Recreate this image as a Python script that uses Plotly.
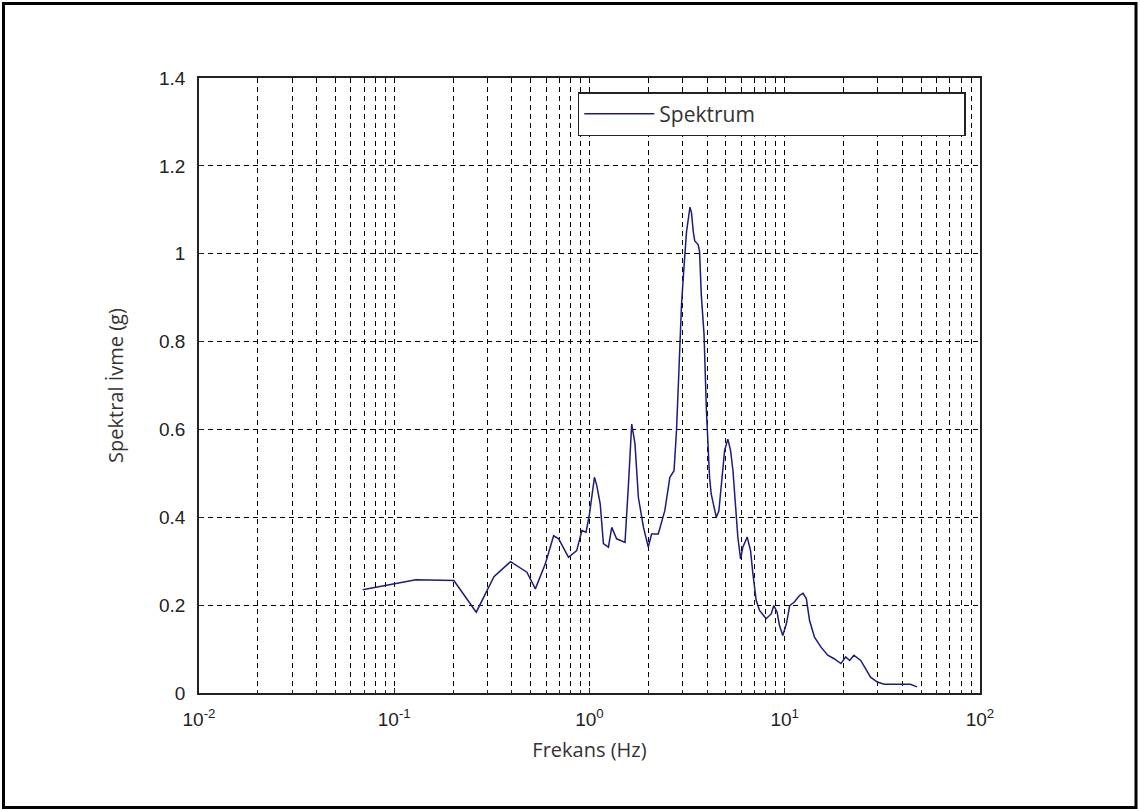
import plotly.graph_objects as go

# Frequency (Hz) and spectral acceleration (g)
freq = [0.0689, 0.110, 0.129, 0.202, 0.263, 0.324, 0.394, 0.478, 0.528, 0.594,
        0.655, 0.695, 0.781, 0.86, 0.914, 0.96, 1.0, 1.06, 1.09, 1.135,
        1.178, 1.25, 1.30, 1.377, 1.52, 1.58, 1.645, 1.71, 1.78, 1.89,
        2.0, 2.08, 2.25, 2.43, 2.58, 2.71, 2.79, 2.87, 2.96, 3.05,
        3.14, 3.27, 3.33, 3.40, 3.46, 3.60, 3.66, 3.74, 3.86, 3.97,
        4.12, 4.2, 4.46, 4.6, 4.73, 4.92, 5.11, 5.28, 5.43, 5.57,
        5.75, 5.94, 6.1, 6.42, 6.68, 6.87, 7.14, 7.43, 8.03, 8.52,
        8.79, 9.14, 9.39, 9.77, 10.2, 10.6, 11.2, 11.9, 12.4, 12.9,
        13.4, 14.2, 15.3, 16.6, 17.9, 19.4, 20.5, 21.5, 22.6, 24.5,
        26.0, 27.5, 29.8, 32.3, 38.4, 44.0, 47.6]
spektrum = [0.235, 0.252, 0.258, 0.256, 0.184, 0.265, 0.299, 0.275, 0.237, 0.294,
            0.358, 0.351, 0.309, 0.324, 0.370, 0.366, 0.408, 0.491, 0.472, 0.430,
            0.340, 0.332, 0.377, 0.351, 0.343, 0.468, 0.612, 0.567, 0.445, 0.377,
            0.332, 0.362, 0.362, 0.415, 0.491, 0.506, 0.597, 0.733, 0.885, 0.972,
            1.050, 1.106, 1.093, 1.050, 1.029, 1.021, 1.006, 0.904, 0.817, 0.643,
            0.491, 0.453, 0.400, 0.415, 0.472, 0.552, 0.578, 0.552, 0.506, 0.430,
            0.355, 0.305, 0.332, 0.355, 0.324, 0.271, 0.211, 0.188, 0.169, 0.180,
            0.199, 0.184, 0.154, 0.131, 0.158, 0.199, 0.207, 0.222, 0.227, 0.215,
            0.165, 0.127, 0.105, 0.086, 0.078, 0.067, 0.082, 0.074, 0.086, 0.074,
            0.055, 0.036, 0.025, 0.020, 0.020, 0.020, 0.014]

x_tickvals = [0.01, 0.1, 1, 10, 100]
x_ticktext = ["10<sup>-2</sup>", "10<sup>-1</sup>", "10<sup>0</sup>", "10<sup>1</sup>", "10<sup>2</sup>"]
y_tickvals = [0, 0.2, 0.4, 0.6, 0.8, 1, 1.2, 1.4]
y_ticktext = ["0", "0.2", "0.4", "0.6", "0.8", "1", "1.2", "1.4"]
x_minor = [m * 10 ** e for e in range(-2, 2) for m in range(2, 10)]

tick_font = dict(family="Liberation Sans Narrow, Liberation Sans, Arial", size=19, color="#222")
label_font = dict(family="Open Sans, Noto Sans, sans-serif", size=20, color="#333")

fig = go.Figure()
fig.add_trace(go.Scatter(
    x=freq, y=spektrum, mode="lines", name="Spektrum",
    line=dict(color="#1c1c80", width=1.5),
))

grid = dict(showgrid=True, gridcolor="black", gridwidth=1, griddash="5px,4px")

fig.update_layout(
    width=1140, height=811,
    paper_bgcolor="white", plot_bgcolor="white",
    margin=dict(l=199, r=160, t=78, b=118),
    showlegend=True,
    legend=dict(
        x=0.485, y=0.977, xanchor="left", yanchor="top",
        orientation="h",
        bordercolor="#222", borderwidth=1.5, bgcolor="white",
        font=dict(family="Open Sans, Noto Sans, sans-serif", size=21, color="#333"),
        itemwidth=70, entrywidthmode="pixels", entrywidth=300,
    ),
    xaxis=dict(
        type="log", range=[-2, 2],
        tickvals=x_tickvals, ticktext=x_ticktext,
        tickfont=tick_font, ticklabelstandoff=8,
        title=dict(text="Frekans (Hz)", font=label_font, standoff=14),
        showline=True, linecolor="#222", linewidth=1.5, mirror=True,
        ticks="inside", ticklen=5, tickcolor="#222",
        zeroline=False,
        minor=dict(tickvals=x_minor, showgrid=True, gridcolor="black",
                   gridwidth=1, griddash="5px,4px", ticks="inside", ticklen=3,
                   tickcolor="#222"),
        **grid,
    ),
    yaxis=dict(
        range=[0, 1.4],
        tickvals=y_tickvals, ticktext=y_ticktext,
        tickfont=tick_font, ticklabelstandoff=8,
        title=dict(text="Spektral İvme (g)", font=label_font, standoff=30),
        showline=True, linecolor="#222", linewidth=1.5, mirror=True,
        ticks="inside", ticklen=5, tickcolor="#222",
        zeroline=False,
        **grid,
    ),
    shapes=[dict(
        type="rect", xref="paper", yref="paper",
        x0=(3.5 - 199) / 781, x1=(1136 - 199) / 781,
        y0=(693 - 807.5) / 615, y1=(693 - 3.5) / 615,
        line=dict(color="black", width=3), fillcolor="rgba(0,0,0,0)",
        layer="below",
    )],
)

fig.write_html("out.html", config={"displayModeBar": False},
               post_script="document.body.style.margin='0';")
